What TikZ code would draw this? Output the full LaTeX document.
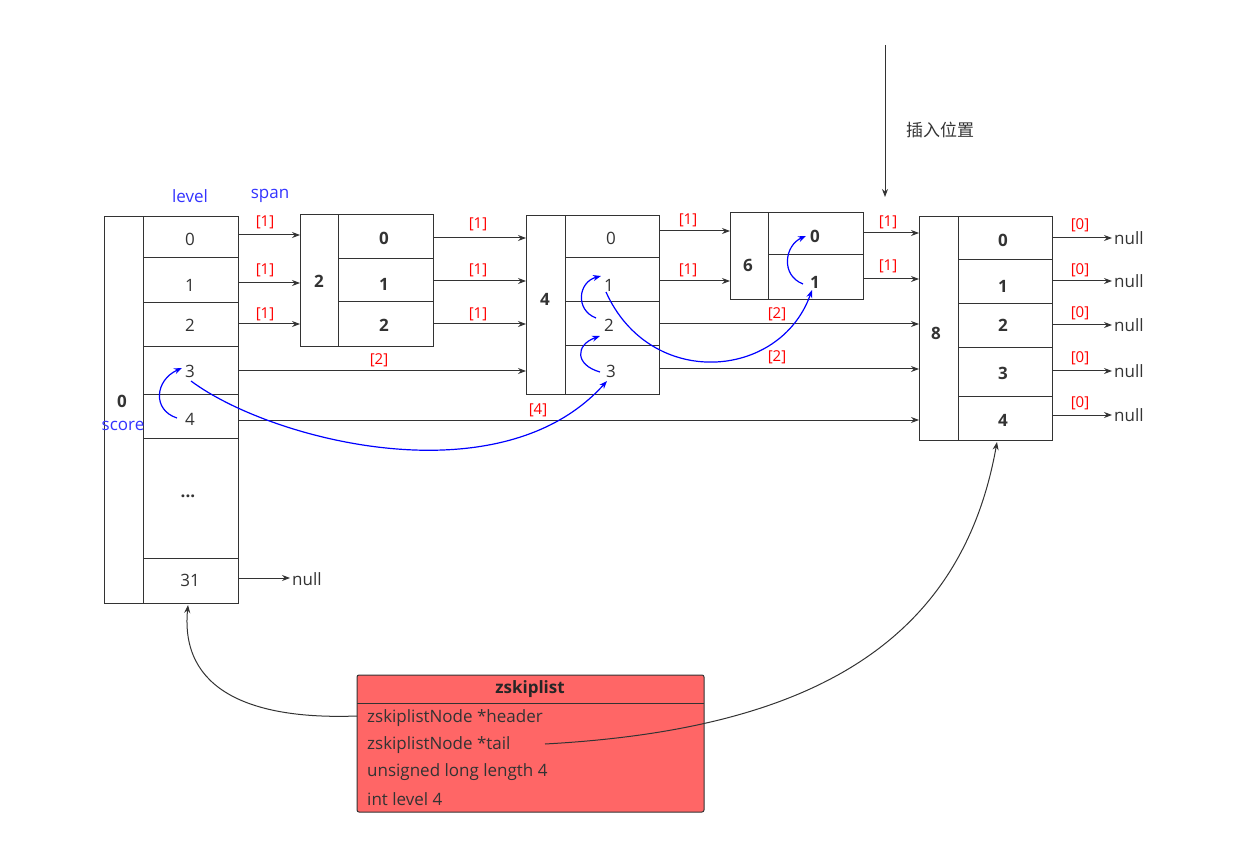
\documentclass[tikz,border=0pt]{standalone}
\usepackage{fontspec}
\setmainfont{Open Sans}
\newfontfamily\cjk{Noto Sans CJK SC}
\usetikzlibrary{arrows.meta}
\definecolor{lred}{HTML}{FF6666}
\definecolor{dk}{HTML}{333333}
\definecolor{bl}{HTML}{0000FF}
\begin{document}
\begin{tikzpicture}[x=1pt,y=-1pt,
  bx/.style={draw=dk,line width=1pt},
  ar/.style={-{Stealth[length=8pt,width=6pt]},draw=dk,line width=1pt},
  ba/.style={-{Stealth[length=8pt,width=6pt]},draw=bl,line width=1.2pt},
  sp/.style={text=red,font=\fontsize{15}{15}\selectfont,inner sep=0pt},
  tx/.style={text=dk,font=\fontsize{17}{17}\selectfont,inner sep=0pt},
  bt/.style={text=dk,font=\bfseries\fontsize{17}{17}\selectfont,inner sep=0pt},
  nl/.style={text=dk,font=\fontsize{17}{17}\selectfont,inner sep=0pt,anchor=west},
  bu/.style={text=bl!80!white,font=\fontsize{17}{17}\selectfont,inner sep=0pt}]
\useasboundingbox (0,0) rectangle (1240,842);
% header
\draw[bx] (104,217) rectangle (238,603);
\draw[bx] (143,217) -- (143,603);
\foreach \y in {258,303,347,394,438,558} \draw[bx] (143,\y) -- (238,\y);
\node[tx] (h0) at (190,239) {0};
\node[tx] (h1) at (190,285) {1};
\node[tx] (h2) at (190,325) {2};
\node[tx] (h3) at (190,371) {3};
\node[tx] (h4) at (190,419) {4};
\node[bt] (hd) at (188,496) {...};
\node[tx] (h31) at (190,580) {31};
\node[bt] (hs) at (122,401) {0};
\node[bu] (score) at (123,426) {score};
\node[bu] (lv) at (190,196) {level};
\node[bu] (spn) at (270,196) {span};
% node 2
\draw[bx] (300,215) rectangle (433,347);
\draw[bx] (338,215) -- (338,347);
\foreach \y in {259,302} \draw[bx] (338,\y) -- (433,\y);
\node[bt] (n2) at (319,281) {2};
\node[bt] (a0) at (384,238) {0};
\node[bt] (a1) at (384,284) {1};
\node[bt] (a2) at (384,325) {2};
% node 4
\draw[bx] (526,216) rectangle (659,394);
\draw[bx] (565,216) -- (565,394);
\foreach \y in {258,302,346} \draw[bx] (565,\y) -- (659,\y);
\node[bt] (n4) at (545,299) {4};
\node[tx] (b0) at (611,238) {0};
\node[tx] (b1) at (609,285) {1};
\node[tx] (b2) at (609,325) {2};
\node[tx] (b3) at (611,371) {3};
% node 6
\draw[bx] (730,213) rectangle (863,300);
\draw[bx] (768,213) -- (768,300);
\draw[bx] (768,255) -- (863,255);
\node[bt] (n6) at (748,265) {6};
\node[bt] (c0) at (815,236) {0};
\node[bt] (c1) at (815,282) {1};
% node 8
\draw[bx] (919,217) rectangle (1052,440);
\draw[bx] (958,217) -- (958,440);
\foreach \y in {260,304,348,396} \draw[bx] (958,\y) -- (1052,\y);
\node[bt] (n8) at (936,333) {8};
\node[bt] (d0) at (1003,240) {0};
\node[bt] (d1) at (1003,286) {1};
\node[bt] (d2) at (1003,325) {2};
\node[bt] (d3) at (1003,373) {3};
\node[bt] (d4) at (1003,420) {4};
% horizontal arrows
\coordinate (p) at (0,0);
\draw[ar] (238,235) -- (300,235); \node[sp] at (265,222) {[1]};
\draw[ar] (433,238) -- (526,238); \node[sp] at (478,224) {[1]};
\draw[ar] (659,231) -- (730,231); \node[sp] at (688,220) {[1]};
\draw[ar] (863,233) -- (919,233); \node[sp] at (888,222) {[1]};
\draw[ar] (238,283) -- (300,283); \node[sp] at (265,270) {[1]};
\draw[ar] (433,281) -- (526,281); \node[sp] at (478,270) {[1]};
\draw[ar] (659,281) -- (730,281); \node[sp] at (688,270) {[1]};
\draw[ar] (863,279) -- (919,279); \node[sp] at (888,266) {[1]};
\draw[ar] (238,324) -- (300,324); \node[sp] at (265,314) {[1]};
\draw[ar] (433,324) -- (526,324); \node[sp] at (478,314) {[1]};
\draw[ar] (659,324) -- (919,324); \node[sp] at (777,314) {[2]};
\draw[ar] (238,371) -- (526,371); \node[sp] at (379,360) {[2]};
\draw[ar] (659,369) -- (919,369); \node[sp] at (777,357) {[2]};
\draw[ar] (238,420) -- (919,420); \node[sp] at (538,410) {[4]};
\foreach \y/\ly in {238/225,281/270,325/313,371/358,415/403}{
  \draw[ar] (1052,\y) -- (1112,\y); \node[sp] at (1080,\ly) {[0]};
  \node[nl] at (1114,\y) {null};}
\draw[ar] (238,578) -- (290,578); \node[nl] (nul) at (292,579) {null};
% blue curves
\draw[ba] (177,418) .. controls (152,410) and (155,380) .. (182,368);
\draw[ba] (191,381) .. controls (270,440) and (500,500) .. (607,381);
\draw[ba] (600,372) .. controls (575,365) and (575,345) .. (600,336);
\draw[ba] (596,318) .. controls (575,310) and (578,282) .. (601,276);
\draw[ba] (606,292) .. controls (650,390) and (780,380) .. (812,290);
\draw[ba] (803,284) .. controls (780,275) and (785,245) .. (806,236);
% insert
\draw[ar] (885,45) -- (885,197);
\node[text=dk,font=\cjk\fontsize{17}{17}\selectfont,inner sep=0pt] (ins) at (940,130) {插入位置};
% zskiplist
\draw[draw=dk,fill=lred,line width=1pt,rounded corners=2pt] (357,675) rectangle (704,812);
\draw[dk,line width=1pt] (357,703) -- (704,703);
\node[bt,text=black!85] (zt) at (530,689) {zskiplist};
\node[nl] (zh) at (367,718) {zskiplistNode *header};
\node[nl] (ztl) at (367,745) {zskiplistNode *tail};
\node[nl] at (367,772) {unsigned long length 4};
\node[nl] at (367,799) {int level 4};
\draw[ar] (357,716) .. controls (250,720) and (180,690) .. (188,605);
\draw[ar] (545,744) .. controls (800,730) and (960,650) .. (997,442);
\end{tikzpicture}
\end{document}
